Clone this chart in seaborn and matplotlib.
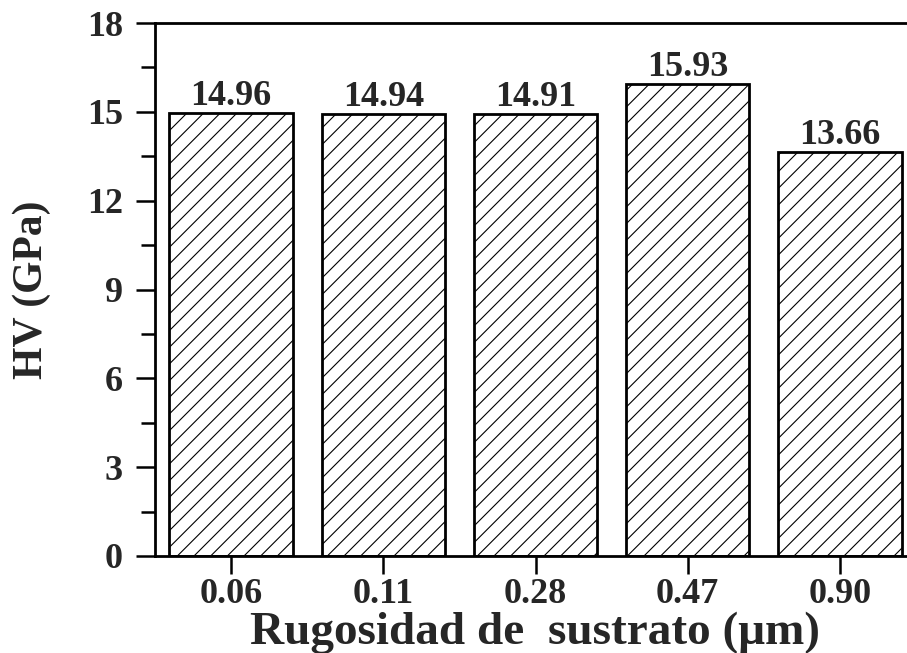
import numpy as np
import pandas as pd
import matplotlib
matplotlib.use("Agg")
import matplotlib.pyplot as plt
import seaborn as sns

# Data
roughness = ["0.06", "0.11", "0.28", "0.47", "0.90"]
hardness = [14.96, 14.94, 14.91, 15.93, 13.66]

df = pd.DataFrame({"Rugosidad": roughness, "HV": hardness})

sns.set_theme(style="ticks")
plt.rcParams["font.family"] = ["Liberation Serif", "DejaVu Serif"]
plt.rcParams["font.weight"] = "bold"
plt.rcParams["hatch.linewidth"] = 0.8

fig = plt.figure(figsize=(9.07, 6.53), dpi=100)
ax = fig.add_axes([155 / 907, 97 / 653, 761 / 907, 533 / 653])

sns.barplot(data=df, x="Rugosidad", y="HV", color="white", edgecolor="black",
            linewidth=2, width=0.81, ax=ax)
for p in ax.patches:
    p.set_hatch("//")
    p.set_facecolor("white")

ax.bar_label(ax.containers[0], fmt="%.2f", padding=0, fontsize=26, fontweight="bold")

ax.set_xlim(-0.5, 4.5)
ax.set_ylim(0, 18)
ax.set_yticks(np.arange(0, 19, 3))
ax.set_yticks(np.arange(0, 18, 1.5), minor=True)

for s in ["left", "bottom", "top", "right"]:
    ax.spines[s].set_linewidth(2)
    ax.spines[s].set_color("black")

ax.tick_params(axis="y", which="major", direction="out", length=14, width=1.8,
               labelsize=26, pad=9, color="black")
ax.tick_params(axis="y", which="minor", direction="out", length=10, width=1.8, color="black")
ax.tick_params(axis="x", which="major", direction="out", length=13, width=1.8,
               labelsize=26, pad=3, color="black")

for lab in ax.get_xticklabels() + ax.get_yticklabels():
    lab.set_fontweight("bold")

ax.set_xlabel("Rugosidad de  sustrato (μm)", fontsize=34, fontweight="bold", labelpad=0)
ax.set_ylabel("HV (GPa)", fontsize=30, fontweight="bold", labelpad=26)

fig.savefig("out.png", dpi=100)
